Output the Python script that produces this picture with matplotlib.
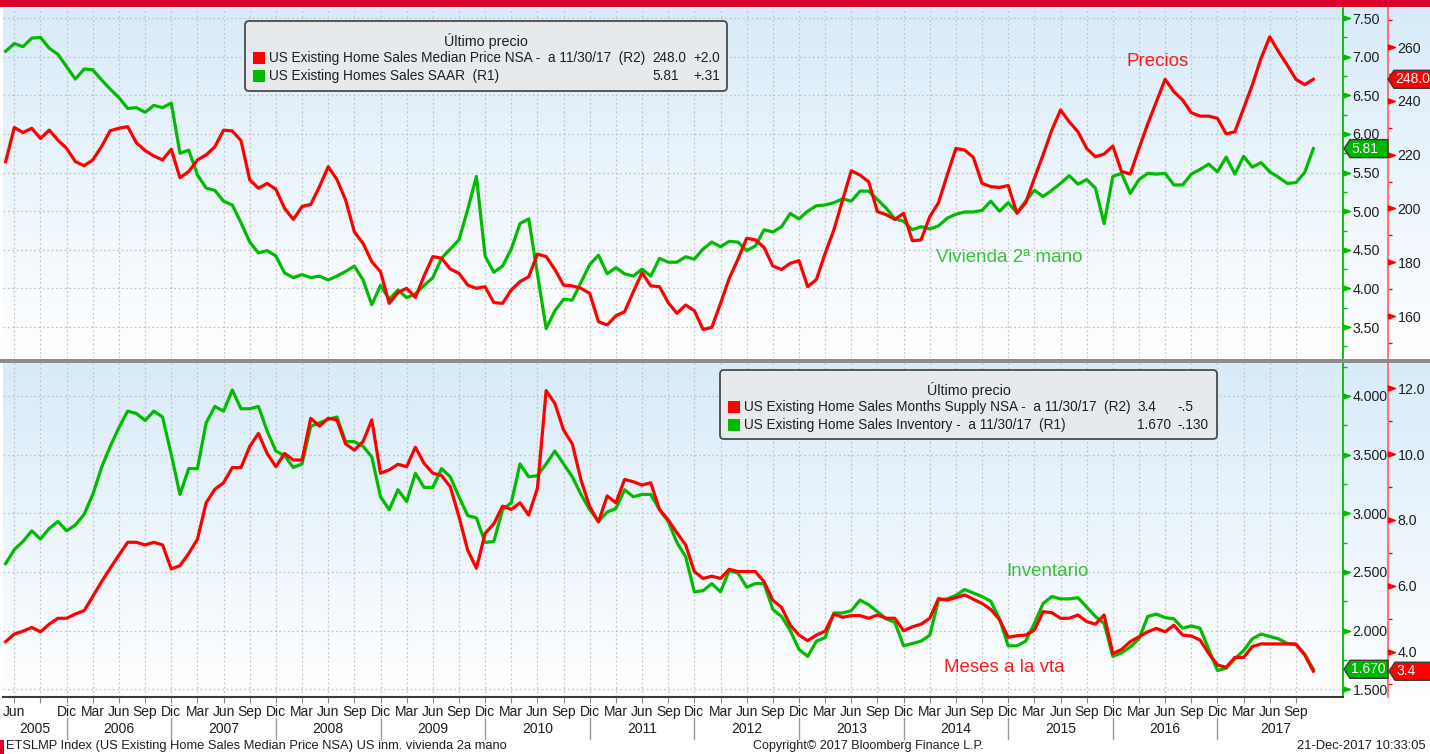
import numpy as np
import pandas as pd
import matplotlib
matplotlib.use("Agg")
import matplotlib.pyplot as plt
from matplotlib import font_manager
from matplotlib.patches import Polygon, FancyBboxPatch, Rectangle
from matplotlib.colors import LinearSegmentedColormap
from matplotlib.ticker import MultipleLocator, FormatStrFormatter
from matplotlib.transforms import blended_transform_factory as blend, IdentityTransform

# pick a narrow font if we have one, sizes are tuned for Liberation Sans
installed = {f.name for f in font_manager.fontManager.ttflist}
NARROW = "Liberation Sans Narrow" in installed
FONT = "Liberation Sans Narrow" if NARROW else "Liberation Sans"
plt.rcParams["font.family"] = [FONT, "DejaVu Sans"]
K = 1.2 if NARROW else 1.0   # narrow font can be set a bit bigger

W, H = 1430, 754
RED = "#ff0000"
GREEN = "#00bb00"
TXT = "#1e1e1e"

# monthly data, May 2005 .. Nov 2017
months = pd.period_range("2005-05", "2017-11", freq="M")

# US Existing Homes Sales SAAR (millions, R1)
sales_saar = [
    7.07, 7.17, 7.13, 7.24, 7.25, 7.11, 7.03, 6.87, 6.71, 6.84,
    6.83, 6.70, 6.58, 6.47, 6.33, 6.34, 6.28, 6.37, 6.34, 6.40,
    5.75, 5.79, 5.47, 5.30, 5.27, 5.13, 5.08, 4.85, 4.60, 4.46,
    4.49, 4.42, 4.20, 4.14, 4.18, 4.14, 4.16, 4.11, 4.16, 4.22,
    4.29, 4.11, 3.79, 4.04, 3.86, 3.98, 3.88, 3.93, 4.04, 4.14,
    4.39, 4.51, 4.63, 5.02, 5.45, 4.42, 4.21, 4.29, 4.51, 4.84,
    4.90, 4.19, 3.48, 3.71, 3.86, 3.85, 4.08, 4.31, 4.43, 4.19,
    4.27, 4.19, 4.16, 4.25, 4.16, 4.39, 4.34, 4.34, 4.41, 4.38,
    4.51, 4.60, 4.54, 4.61, 4.60, 4.49, 4.55, 4.76, 4.73, 4.80,
    4.97, 4.90, 5.00, 5.07, 5.08, 5.11, 5.16, 5.13, 5.26, 5.26,
    5.15, 5.04, 4.90, 4.87, 4.76, 4.80, 4.77, 4.81, 4.91, 4.96,
    4.99, 4.99, 5.01, 5.13, 5.00, 5.11, 4.98, 5.13, 5.27, 5.19,
    5.27, 5.36, 5.46, 5.35, 5.41, 5.30, 4.84, 5.45, 5.49, 5.23,
    5.41, 5.49, 5.48, 5.49, 5.34, 5.34, 5.48, 5.54, 5.61, 5.51,
    5.70, 5.48, 5.71, 5.57, 5.63, 5.51, 5.44, 5.36, 5.37, 5.50,
    5.81,
]

# US Existing Home Sales Median Price NSA (thousand $, R2)
median_price = [
    217.4, 230.1, 228.2, 229.8, 226.0, 229.1, 225.4, 222.3, 217.4, 215.9,
    218.0, 223.0, 228.9, 229.8, 230.4, 224.4, 221.5, 219.5, 218.0, 222.0,
    211.4, 213.7, 218.0, 219.9, 222.9, 229.1, 228.8, 225.2, 210.6, 207.5,
    209.3, 207.1, 200.0, 195.9, 200.7, 201.5, 208.1, 215.5, 210.8, 203.1,
    191.3, 187.0, 180.2, 176.5, 164.7, 168.7, 170.3, 166.9, 174.9, 182.1,
    181.5, 177.5, 175.9, 171.5, 170.3, 170.9, 165.0, 164.7, 169.7, 172.8,
    174.6, 183.0, 182.1, 177.3, 171.5, 171.2, 170.3, 168.4, 157.9, 156.7,
    160.1, 161.6, 169.0, 176.1, 171.2, 170.9, 165.0, 161.0, 164.1, 162.0,
    155.0, 155.8, 164.7, 174.0, 181.1, 188.9, 188.3, 185.5, 178.6, 177.3,
    179.6, 180.6, 170.9, 173.6, 183.3, 192.0, 203.1, 214.0, 212.4, 209.9,
    198.8, 197.7, 195.9, 198.2, 188.0, 188.3, 196.9, 202.1, 212.4, 222.3,
    221.7, 219.0, 209.3, 208.1, 207.8, 208.5, 198.2, 202.1, 211.2, 219.9,
    229.1, 236.6, 232.2, 228.5, 222.3, 219.2, 220.2, 223.2, 213.7, 212.8,
    222.3, 231.4, 239.7, 248.0, 243.4, 240.3, 235.6, 234.3, 234.3, 233.5,
    227.7, 228.5, 237.2, 245.9, 255.8, 263.8, 258.3, 253.3, 248.0, 246.0,
    248.0,
]

# US Existing Home Sales Inventory (millions, R1)
inventory = [
    2.57, 2.69, 2.76, 2.85, 2.78, 2.87, 2.93, 2.85, 2.90, 2.99,
    3.16, 3.39, 3.57, 3.73, 3.87, 3.85, 3.79, 3.87, 3.82, 3.50,
    3.16, 3.38, 3.38, 3.77, 3.91, 3.87, 4.05, 3.89, 3.89, 3.91,
    3.70, 3.53, 3.49, 3.39, 3.42, 3.74, 3.77, 3.80, 3.82, 3.61,
    3.61, 3.57, 3.48, 3.14, 3.03, 3.20, 3.10, 3.34, 3.22, 3.22,
    3.38, 3.31, 3.14, 2.98, 2.96, 2.75, 2.76, 3.03, 3.09, 3.42,
    3.31, 3.32, 3.42, 3.53, 3.42, 3.31, 3.16, 3.03, 2.93, 3.01,
    3.04, 3.20, 3.14, 3.16, 3.16, 3.03, 2.93, 2.75, 2.63, 2.33,
    2.34, 2.40, 2.33, 2.51, 2.49, 2.37, 2.40, 2.40, 2.18, 2.12,
    2.00, 1.84, 1.78, 1.91, 1.94, 2.15, 2.15, 2.17, 2.26, 2.22,
    2.16, 2.10, 2.07, 1.87, 1.89, 1.91, 1.96, 2.26, 2.27, 2.30,
    2.35, 2.32, 2.29, 2.25, 2.10, 1.87, 1.87, 1.91, 2.06, 2.23,
    2.29, 2.27, 2.27, 2.28, 2.20, 2.12, 2.06, 1.78, 1.81, 1.86,
    1.93, 2.12, 2.14, 2.11, 2.10, 2.02, 2.04, 2.02, 1.84, 1.66,
    1.68, 1.76, 1.83, 1.93, 1.97, 1.95, 1.93, 1.89, 1.88, 1.80,
    1.67,
]

# US Existing Home Sales Months Supply NSA (R2)
months_supply = [
    4.30, 4.53, 4.62, 4.73, 4.60, 4.83, 5.01, 5.01, 5.14, 5.24,
    5.67, 6.12, 6.53, 6.93, 7.32, 7.32, 7.24, 7.32, 7.24, 6.51,
    6.61, 6.98, 7.41, 8.52, 8.93, 9.13, 9.59, 9.59, 10.23, 10.63,
    10.02, 9.62, 10.02, 9.82, 9.82, 11.09, 10.85, 11.09, 11.04, 10.31,
    10.12, 10.38, 11.04, 9.42, 9.52, 9.69, 9.62, 10.21, 9.72, 9.42,
    9.35, 9.01, 8.10, 7.08, 6.53, 7.59, 7.88, 8.42, 8.32, 8.52,
    8.15, 8.96, 11.93, 11.54, 10.73, 10.31, 9.21, 8.40, 7.94, 8.73,
    8.52, 9.23, 9.16, 9.06, 9.13, 8.32, 8.00, 7.61, 7.24, 6.43,
    6.22, 6.29, 6.22, 6.50, 6.43, 6.43, 6.43, 6.12, 5.56, 5.34,
    4.80, 4.50, 4.33, 4.50, 4.62, 5.14, 5.04, 5.09, 5.09, 5.01,
    5.11, 5.01, 5.01, 4.63, 4.75, 4.83, 5.01, 5.61, 5.56, 5.64,
    5.72, 5.59, 5.46, 5.28, 4.97, 4.43, 4.48, 4.50, 4.65, 5.21,
    5.18, 5.01, 5.01, 5.11, 4.91, 4.83, 5.11, 3.94, 4.06, 4.30,
    4.45, 4.60, 4.70, 4.60, 4.80, 4.50, 4.47, 4.35, 3.94, 3.59,
    3.52, 3.82, 3.82, 4.15, 4.23, 4.23, 4.23, 4.23, 4.23, 3.90,
    3.40,
]

month_names = {3: "Mar", 6: "Jun", 9: "Sep", 12: "Dic"}

x = np.arange(len(months))
XLIM = (-0.3, 153.4)

fig = plt.figure(figsize=(W / 100, H / 100), dpi=100)
fig.patch.set_facecolor("white")


def fy(py):
    return 1 - py / H


def panel_bg(top, bottom):
    bg = fig.add_axes([3 / W, fy(bottom), 1 - 3 / W, (bottom - top) / H], zorder=-5)
    cmap = LinearSegmentedColormap.from_list("bg", ["#d8ebf9", "#ffffff"])
    bg.imshow(np.linspace(0, 1, 256).reshape(-1, 1), aspect="auto", cmap=cmap,
              extent=[0, 1, 0, 1], origin="upper")
    bg.axis("off")


panel_bg(8, 358)
panel_bg(363, 697)

# red bar on top and grey separator between the panels
fig.add_artist(Rectangle((0, fy(7)), 1, 7 / H, transform=fig.transFigure,
                         color="#d9002a", lw=0))
fig.add_artist(Rectangle((0, fy(362.5)), 1, 4 / H, transform=fig.transFigure,
                         color="#8c8c8c", lw=0))

quarters = [i for i, p in enumerate(months) if p.month in month_names]
TRI = [(0, -0.35), (1, 0), (0, 0.35), (0, -0.35)]
RPOS = 1385 / 1340   # red axis position, in axes fraction


def style_pair(ax, axr, gmaj, gmin, gfmt, rmaj, rmin, rfmt):
    ax.set_facecolor("none")
    ax.set_xlim(*XLIM)
    for s in ["top", "left", "bottom"]:
        ax.spines[s].set_visible(False)
        axr.spines[s].set_visible(False)
    ax.spines["right"].set_color(GREEN)
    ax.spines["right"].set_linewidth(1.3)
    axr.spines["right"].set_position(("axes", RPOS))
    axr.spines["right"].set_color("#ff6a6a")
    axr.spines["right"].set_linewidth(1.3)

    ax.yaxis.tick_right()
    ax.yaxis.set_major_locator(MultipleLocator(gmaj))
    ax.yaxis.set_minor_locator(MultipleLocator(gmin))
    ax.yaxis.set_major_formatter(FormatStrFormatter(gfmt))
    axr.yaxis.set_major_locator(MultipleLocator(rmaj))
    axr.yaxis.set_minor_locator(MultipleLocator(rmin))
    axr.yaxis.set_major_formatter(FormatStrFormatter(rfmt))

    for a, col, xpos in [(ax, GREEN, 1.0), (axr, RED, RPOS)]:
        a.tick_params(axis="y", which="major", length=0, pad=7, labelsize=10.2 * K,
                      labelcolor=TXT)
        a.tick_params(axis="y", which="minor", length=3, width=1, color=col,
                      direction="out")
        lo, hi = a.get_ylim()
        vals = [v for v in a.yaxis.get_majorticklocs() if lo <= v <= hi]
        a.plot([xpos] * len(vals), vals, ls="none", marker=TRI, ms=10, color=col,
               transform=blend(a.transAxes, a.transData), clip_on=False, zorder=6)

    ax.set_xticks(quarters)
    ax.grid(True, ls=(0, (1.5, 2)), color="#c4c4c4", lw=0.9)


def tag(ax, value, xt, xr, text, face):
    # last-value flag on the axis
    yc = ax.transData.transform((0, value))[1]
    h = 18
    pts = [(xt, yc), (xt + 6, yc + h / 2), (xr, yc + h / 2), (xr, yc - h / 2),
           (xt + 6, yc - h / 2)]
    fig.add_artist(Polygon(pts, closed=True, facecolor=face, edgecolor="#3a3a3a",
                           lw=1, transform=IdentityTransform(), zorder=10))
    fig.text((xt + 7) / W, yc / H, text, color="white", fontsize=10 * K,
             ha="left", va="center", zorder=11)


# ---------------- top panel ----------------
ax1 = fig.add_axes([3 / W, fy(358), 1340 / W, 350 / H])
ax1.plot(x, sales_saar, color=GREEN, lw=2.3, zorder=3)
ax1.set_ylim(3.10, 7.63)
ax1r = ax1.twinx()
ax1r.plot(x, median_price, color=RED, lw=2.3, zorder=3)
ax1r.set_ylim(144.4, 274.5)
style_pair(ax1, ax1r, 0.5, 0.25, "%.2f", 20, 10, "%d")
ax1.tick_params(axis="x", length=0, labelbottom=False)

fig.text(1158 / W, fy(62), "Precios", color="#ff1a1a", fontsize=13.5 * K,
         ha="center", va="center")
fig.text(1009 / W, fy(257), "Vivienda 2ª mano", color="#3cbf3c", fontsize=13.5 * K,
         ha="center", va="center")

tag(ax1r, median_price[-1], 1388, 1432, f"{median_price[-1]:.1f}", RED)
tag(ax1, sales_saar[-1], 1344, 1388, f"{sales_saar[-1]:.2f}", "#00b400")

# ---------------- bottom panel ----------------
ax2 = fig.add_axes([3 / W, fy(697), 1340 / W, 334 / H])
ax2.plot(x, inventory, color=GREEN, lw=2.3, zorder=3)
ax2.set_ylim(1.434, 4.28)
ax2r = ax2.twinx()
ax2r.plot(x, months_supply, color=RED, lw=2.3, zorder=3)
ax2r.set_ylim(2.617, 12.77)
style_pair(ax2, ax2r, 0.5, 0.25, "%.3f", 2, 1, "%.1f")
ax2.spines["bottom"].set_visible(True)
ax2.spines["bottom"].set_color("#3c3c3c")
ax2.spines["bottom"].set_linewidth(1.5)

qlabels = []
for i in quarters:
    p = months[i]
    qlabels.append("" if (p.year == 2005 and p.month == 9) else month_names[p.month])
ax2.set_xticks(quarters, labels=qlabels)
ax2.tick_params(axis="x", length=4, color="#8a8a8a", labelsize=10 * K, pad=2,
                labelcolor=TXT)

# year row
dec_idx = [i for i, p in enumerate(months) if p.month == 12]
years = sorted(set(p.year for p in months))
trx = blend(ax2.transData, ax2.transAxes)
for k, yr in enumerate(years):
    a = dec_idx[k - 1] if k > 0 else XLIM[0]
    b = dec_idx[k] if k < len(dec_idx) else 152.4
    ax2.text((a + b) / 2, -(729 - 697) / 334, str(yr), transform=trx, ha="center",
             va="center", fontsize=10 * K, color=TXT)
for d in dec_idx:
    ax2.plot([d, d], [-(718 - 697) / 334, -(739 - 697) / 334], color="#9a9a9a",
             lw=1, transform=trx, clip_on=False)

fig.text(1047 / W, fy(571), "Inventario", color="#3cbf3c", fontsize=13.5 * K,
         ha="center", va="center")
fig.text(1004 / W, fy(667), "Meses a la vta", color="#ff1a1a", fontsize=13.5 * K,
         ha="center", va="center")

tag(ax2, inventory[-1], 1344, 1388, f"{inventory[-1]:.3f}", "#00b400")
tag(ax2r, months_supply[-1], 1389, 1432, f"{months_supply[-1]:.1f}", RED)


# ---------------- legends ----------------
def legend_box(x0, y0, x1, y1, title, rows, vcol, ccol):
    fs = 9.8 * K
    fig.add_artist(FancyBboxPatch((x0, H - y1), x1 - x0, y1 - y0,
                                  boxstyle="round,pad=0,rounding_size=4",
                                  facecolor="#e7eaed", edgecolor="#4a4a4a", lw=1.3,
                                  transform=IdentityTransform(), zorder=8))
    fig.text((x0 + x1) / 2 / W, fy(y0 + 20), title, fontsize=10.3 * K, ha="center",
             va="center", color=TXT, zorder=9)
    for k, (col, label, val, chg) in enumerate(rows):
        yy = y0 + 37 + 18 * k
        fig.add_artist(Rectangle((x0 + 8, H - yy - 6), 12, 12, facecolor=col, lw=0,
                                 transform=IdentityTransform(), zorder=9))
        for xx, s in [(x0 + 24, label), (vcol, val), (ccol, chg)]:
            fig.text(xx / W, fy(yy), s, fontsize=fs, ha="left", va="center",
                     color=TXT, zorder=9)


legend_box(245, 21, 727, 91, "Último precio", [
    (RED, "US Existing Home Sales Median Price NSA -  a 11/30/17  (R2)",
     f"{median_price[-1]:.1f}", "+2.0"),
    ("#00bb00", "US Existing Homes Sales SAAR  (R1)", f"{sales_saar[-1]:.2f}", "+.31"),
], 652, 693)

legend_box(720, 370, 1217, 439, "Último precio", [
    (RED, "US Existing Home Sales Months Supply NSA -  a 11/30/17  (R2)",
     f"{months_supply[-1]:.1f}", "-.5"),
    ("#00bb00", "US Existing Home Sales Inventory -  a 11/30/17  (R1)",
     f"{inventory[-1]:.3f}", "-.130"),
], 1137, 1177)

# ---------------- footer ----------------
fig.add_artist(Rectangle((0, 0), 4 / W, 14 / H, transform=fig.transFigure,
                         color="#d9002a", lw=0))
fig.text(6 / W, fy(746), "ETSLMP Index (US Existing Home Sales Median Price NSA) US inm. vivienda 2a mano",
         fontsize=9.3 * K, ha="left", va="center", color=TXT)
fig.text(868 / W, fy(746), "Copyright© 2017 Bloomberg Finance L.P.", fontsize=9.0 * K,
         ha="center", va="center", color=TXT)
fig.text(1426 / W, fy(746), "21-Dec-2017 10:33:05", fontsize=9.3 * K, ha="right",
         va="center", color=TXT)

fig.savefig("out.png", dpi=100)
